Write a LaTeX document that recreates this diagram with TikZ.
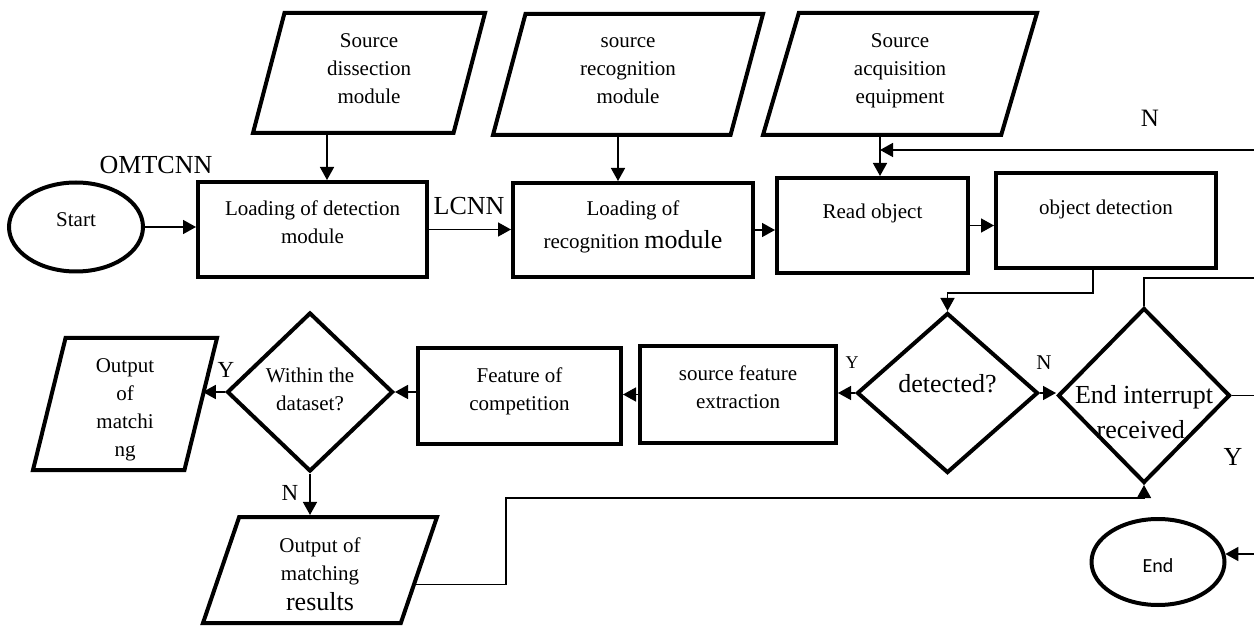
\documentclass[tikz,border=0pt]{standalone}
\usepackage{fontspec}
\setmainfont{Liberation Serif}
\newfontfamily\calibri{Carlito}
\usetikzlibrary{arrows.meta}
\usetikzlibrary{shapes.geometric}
\usetikzlibrary{calc}
\newcommand{\fsn}{\fontsize{21}{28}\selectfont}
\newcommand{\fsb}{\fontsize{26}{35}\selectfont}

\tikzset{
  box/.style={draw, line width=4pt, rectangle, align=center, font=\fsn, inner sep=2pt},
  io/.style={draw, line width=4pt, trapezium, trapezium stretches body, align=center, font=\fsn, inner sep=0pt},
  term/.style={draw, line width=4pt, ellipse, font=\fsn, inner sep=0pt},
  decision/.style={draw, line width=4pt, diamond, align=center, font=\fsn, inner sep=0pt},
  flow/.style={line width=1.5pt},
  lbl/.style={font=\fsb},
}

\begin{document}
\begin{tikzpicture}[x=1pt, y=-1pt, >={Triangle[length=13pt,width=14pt]}]
    \useasboundingbox (0,0) rectangle (1254,628);

    % top row
    \node[term, minimum width=134, minimum height=89, text height=14pt, text depth=14pt] (start) at (76,227) {Start};
    \node[box, minimum width=229, minimum height=95, text depth=14pt] (loaddet) at (312.5,229.5) {Loading of detection\\module};
    \node[box, minimum width=240, minimum height=94, text depth=10.5pt] (loadrec) at (633,230) {Loading of\\[5pt]recognition {\fsb module}};
    \node[box, minimum width=191, minimum height=95, text height=14pt, text depth=27pt] (readobj) at (872.5,225.5) {Read object};
    \node[box, minimum width=220, minimum height=95, text height=14pt, text depth=26pt] (objdet) at (1106,220.5) {object detection};

    % inputs
    \node[io, trapezium left angle=68, trapezium right angle=112, minimum width=232, minimum height=120, text depth=8pt] (srcdis) at (369,73) {Source\\dissection\\module};
    \node[io, trapezium left angle=66, trapezium right angle=114, minimum width=270, minimum height=121, text depth=7pt] (srcrec) at (628,74.5) {source\\recognition\\module};
    \node[io, trapezium left angle=66, trapezium right angle=114, minimum width=274, minimum height=122, text depth=10.5pt] (srcacq) at (900,74) {Source\\acquisition\\equipment};

    % second row
    \node[decision, minimum width=181, minimum height=160, font=\fsb, text height=18pt, text depth=18pt] (detq) at (947.5,393) {detected?};
    \node[decision, minimum width=172, minimum height=175,
      label={[lbl, align=center, yshift=-17pt]center:End interrupt\\received.}] (endq) at (1144,395.5) {};
    \node[box, minimum width=196, minimum height=97, text depth=14pt] (srcfeat) at (738,394.5) {source feature\\extraction};
    \node[box, minimum width=203, minimum height=96, text depth=14.5pt] (featcomp) at (519.5,396) {Feature of\\competition};
    \node[decision, minimum width=166, minimum height=159, text depth=6pt] (within) at (310,392) {Within the\\dataset?};
    \node[io, trapezium left angle=74, trapezium right angle=106, minimum width=184, minimum height=132, text height=109pt] (outm) at (125,404) {Output\\of\\matchi\\ng};

    % bottom
    \node[io, trapezium left angle=66, trapezium right angle=114, minimum width=234, minimum height=106, text height=81pt] (results) at (320,570) {Output of\\matching\\[2pt]{\fsb results}};
    \node[term, minimum width=133, minimum height=86, font=\calibri\fontsize{20}{24}\selectfont, text height=21pt] (end) at (1158,562) {End};

    % labels
    \node[lbl] (omtcnn) at (156,165) {OMTCNN};
    \node[lbl] (lcnn) at (469,206) {LCNN};
    \node[font=\fontsize{25}{30}\selectfont] (nback) at (1150,118) {N};
    \node[font=\fontsize{18}{22}\selectfont] (ydet) at (852,363) {Y};
    \node[font=\fsn] (ndet) at (1044,363) {N};
    \node[font=\fontsize{23}{28}\selectfont] (ywithin) at (226,370) {Y};
    \node[font=\fontsize{23}{28}\selectfont] (nwithin) at (290,493) {N};
    \node[lbl] (yend) at (1233,457) {Y};

    % loose ends at the right border
    \coordinate (nloop) at (1254,150);
    \coordinate (rin) at (1254,278);
    \coordinate (rout) at (1254,393);
    \coordinate (endin) at (1254,554);

    \draw[flow,->] (start.east) -- (start.east -| loaddet.west);
    \draw[flow,->] (loaddet.east) -- (loaddet.east -| loadrec.west);
    \draw[flow,->] (loadrec.east) -- (loadrec.east -| readobj.west);
    \draw[flow,->] (readobj.east) -- (readobj.east -| objdet.west);

    \draw[flow,->] ([xshift=14.5pt]loaddet.north |- srcdis.south) -- ([xshift=14.5pt]loaddet.north);
    \draw[flow,->] ([xshift=-15pt]loadrec.north |- srcrec.south) -- ([xshift=-15pt]loadrec.north);
    \draw[flow,->] ([xshift=7.5pt]readobj.north |- srcacq.south) -- ([xshift=7.5pt]readobj.north);
    \draw[flow,->] (nloop) -- ([xshift=7.5pt]readobj.north |- nloop);

    \draw[flow,->] ([xshift=-13pt]objdet.south) -- ++(0,23) -| (detq.north);
    \draw[flow] (rin) -| (endq.north);
    \draw[flow] (endq.east) -- (endq.east -| rout);
    \draw[flow,->] (endin) -- (endin -| end.7);

    \draw[flow,->] (detq.east) -- (detq.east -| endq.west);
    \draw[flow,->] (detq.west) -- (detq.west -| srcfeat.east);
    \draw[flow,->] (srcfeat.west) -- (srcfeat.west -| featcomp.east);
    \draw[flow,->] (within.east -| featcomp.west) -- (within.east);
    \draw[flow,->] (within.west) -- (within.west -| outm.east);
    \draw[flow,->] (within.south) -- (within.south |- results.north);
    \draw[flow,->] ($(results.top right corner)!0.63!(results.bottom right corner)$) -| (506,498) -| (endq.south);
\end{tikzpicture}
\end{document}
